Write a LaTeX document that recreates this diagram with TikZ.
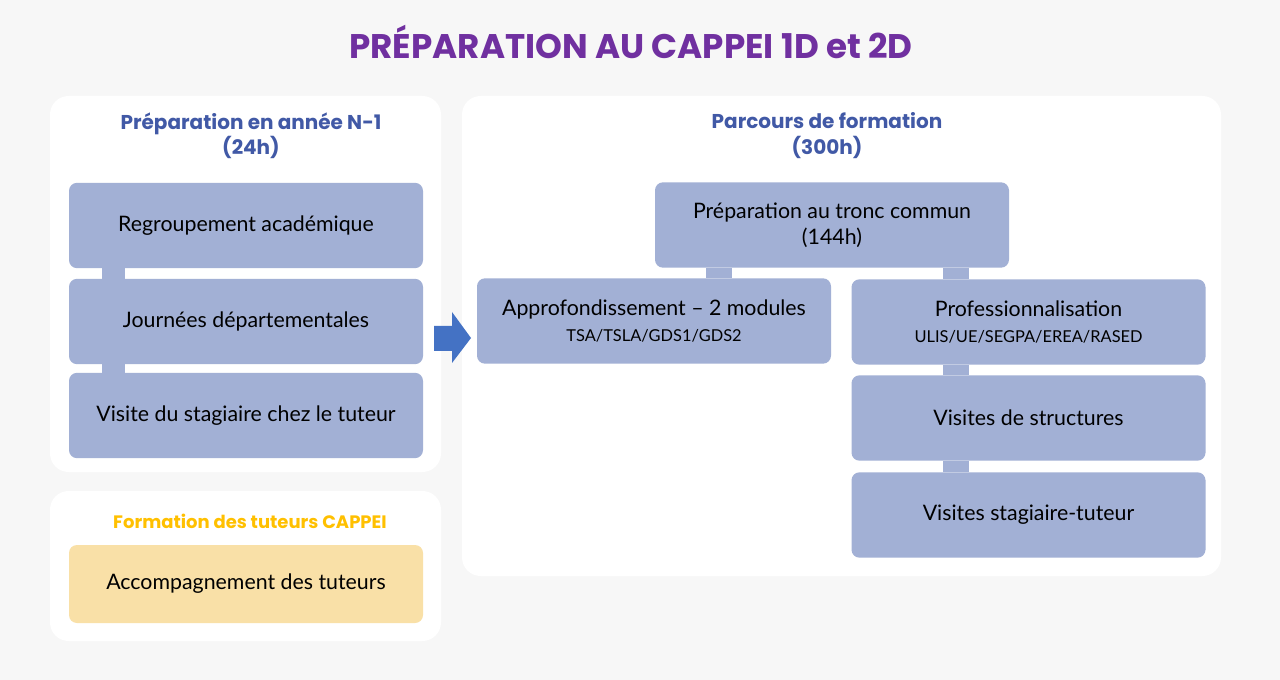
\documentclass[tikz,border=0pt]{standalone}
\usepackage{fontspec}
\setmainfont{Lato}
\newfontfamily\headfont{Poppins}
\usetikzlibrary{positioning}

\definecolor{pagebg}{HTML}{F7F7F7}
\definecolor{titlepurple}{HTML}{7030A0}
\definecolor{headblue}{HTML}{4159A6}
\definecolor{headorange}{HTML}{FFC000}
\definecolor{boxblue}{HTML}{A2B0D5}
\definecolor{boxyellow}{HTML}{F9E0A7}
\definecolor{arrowblue}{HTML}{4472C4}

\tikzset{
	panel/.style={fill=white, rounded corners=14pt},
	stepbox/.style={fill=boxblue, rounded corners=6pt, minimum width=265.5pt, minimum height=64pt,
		inner sep=0pt, align=center, font=\fontsize{16}{19.5}\selectfont},
	heading/.style={align=center, font=\headfont\bfseries\fontsize{15}{19}\selectfont, text=headblue},
	link/.style={draw=boxblue, line width=17.5pt},
	widelink/.style={draw=boxblue, line width=20pt},
}
\newcommand{\subline}[1]{{\fontsize{12.3}{14}\selectfont #1}}

\begin{document}
\begin{tikzpicture}[x=0.75pt, y=-0.75pt]
	% page
	\fill[pagebg] (0,0) rectangle (1280,680);
	\useasboundingbox (0,0) rectangle (1280,680);
	
	\node[font=\headfont\bfseries\fontsize{25.6}{30}\selectfont, text=titlepurple] (title) at (631,42)
	{PRÉPARATION AU CAPPEI 1D et 2D};
	
	% panels
	\fill[panel] (50,96) rectangle (441,472);
	\fill[panel] (50,491) rectangle (441,641);
	\fill[panel] (462,96) rectangle (1221,576);
	
	% left column
	\node[heading] (prephead) at (251,136) {Préparation en année N-1\\(24h)};
	\node[stepbox] (regroup) at (246,225.5) {Regroupement académique};
	\node[stepbox] (journees) at (246,321.5) {Journées départementales};
	\node[stepbox] (visite) at (246,415.5) {Visite du stagiaire chez le tuteur};
	
	\node[heading, text=headorange, font=\headfont\bfseries\fontsize{13.5}{16}\selectfont] (tuthead) at (250,521)
	{Formation des tuteurs CAPPEI};
	\node[stepbox, fill=boxyellow, minimum height=58.5pt] (accomp) at (246,584) {Accompagnement des tuteurs};
	
	% right column
	\node[heading] (parchead) at (827,135.5) {Parcours de formation\\(300h)};
	\node[stepbox] (tronc) at (832,225) {Préparation au tronc commun\\(144h)};
	\node[stepbox] (approf) at (654,321) {Approfondissement – 2 modules\\\subline{TSA/TSLA/GDS1/GDS2}};
	\node[stepbox] (pro) at (1028.5,322) {Professionnalisation\\\subline{ULIS/UE/SEGPA/EREA/RASED}};
	\node[stepbox] (struct) at (1028.5,418) {Visites de structures};
	\node[stepbox] (stagtut) at (1028.5,515) {Visites stagiaire-tuteur};
	
	% connectors
	\coordinate (lcol) at (113.5,0);
	\coordinate (tcol) at (719,0);
	\coordinate (rcol) at (956,0);
	\draw[link] (regroup.south -| lcol) -- (journees.north -| lcol);
	\draw[link] (journees.south -| lcol) -- (visite.north -| lcol);
	\draw[widelink] (tronc.south -| tcol) -- (approf.north -| tcol);
	\draw[widelink] (tronc.south -| rcol) -- (pro.north -| rcol);
	\draw[widelink] (pro.south -| rcol) -- (struct.north -| rcol);
	\draw[widelink] (struct.south -| rcol) -- (stagtut.north -| rcol);
	
	% block arrow
	\fill[arrowblue] (434,326) -- (452,326) -- (452,312) -- (471,338) -- (452,363) -- (452,351) -- (434,351) -- cycle;
\end{tikzpicture}
\end{document}
